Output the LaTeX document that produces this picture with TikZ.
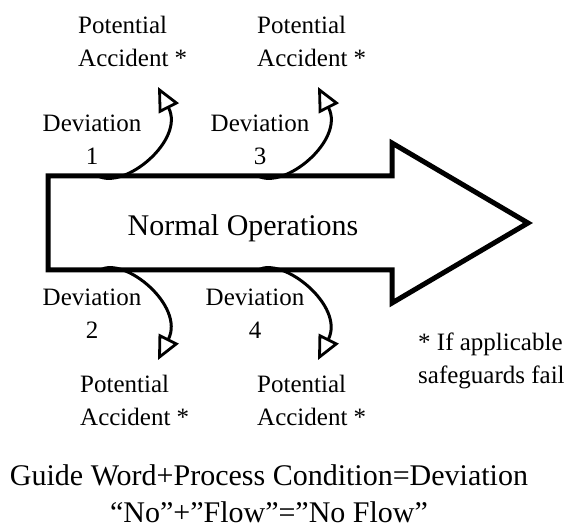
\documentclass[tikz,border=0pt]{standalone}
\usepackage{fontspec}
\setmainfont{Liberation Serif}
\usetikzlibrary{arrows.meta}
\tikzset{
	txt/.style={font=\fontsize{25}{33}\selectfont, inner sep=0pt},
	big/.style={font=\fontsize{30}{37}\selectfont, inner sep=0pt},
	devarrow/.style={line width=3pt, -{Triangle[open, length=24pt, width=22pt, line width=2.8pt]}}
}
\begin{document}
\begin{tikzpicture}[x=1pt, y=-1pt]
	\useasboundingbox (0,0) rectangle (570,529);
	% big arrow
	\draw[line width=5pt, line join=miter] (48,176)--(392,176)--(392,143)--(528,223)--(392,303)--(392,270)--(48,270)--cycle;
	\node[big] (normal) at (243,228) {Normal Operations};

	% deviations
	\node[txt, align=center, anchor=base] (dev1) at (92,165) {Deviation\\1};
	\node[txt, align=center, anchor=base] (dev3) at (260,165) {Deviation\\3};
	\node[txt, align=center, anchor=base] (dev2) at (92,338) {Deviation\\2};
	\node[txt, align=center, anchor=base] (dev4) at (255,338) {Deviation\\4};

	% potential accidents
	\node[txt, align=left, anchor=base west] (acc1) at (78,67) {Potential\\Accident *};
	\node[txt, align=left, anchor=base west] (acc3) at (257,67) {Potential\\Accident *};
	\node[txt, align=left, anchor=base west] (acc2) at (80,425) {Potential\\Accident *};
	\node[txt, align=left, anchor=base west] (acc4) at (257,425) {Potential\\Accident *};

	\node[txt, align=left, anchor=base west] (note) at (418,383) {* If applicable\\safeguards fail};

	% curved arrows
	\coordinate (s1) at (98,176);   \coordinate (t1) at (158,87);
	\coordinate (s3) at (258,176);  \coordinate (t3) at (318,87);
	\coordinate (s2) at (100,270);  \coordinate (t2) at (158,360);
	\coordinate (s4) at (258,270);  \coordinate (t4) at (318,360);
	\draw[devarrow] (s1) .. controls (125,190) and (185,140) .. (t1);
	\draw[devarrow] (s3) .. controls (285,190) and (345,140) .. (t3);
	\draw[devarrow] (s2) .. controls (125,256) and (185,306) .. (t2);
	\draw[devarrow] (s4) .. controls (283,256) and (345,306) .. (t4);

	% formula
	\node[big, align=center, anchor=base] (rule) at (269,522) {Guide Word+Process Condition=Deviation\\``No''+''Flow''=''No Flow''};
\end{tikzpicture}
\end{document}
